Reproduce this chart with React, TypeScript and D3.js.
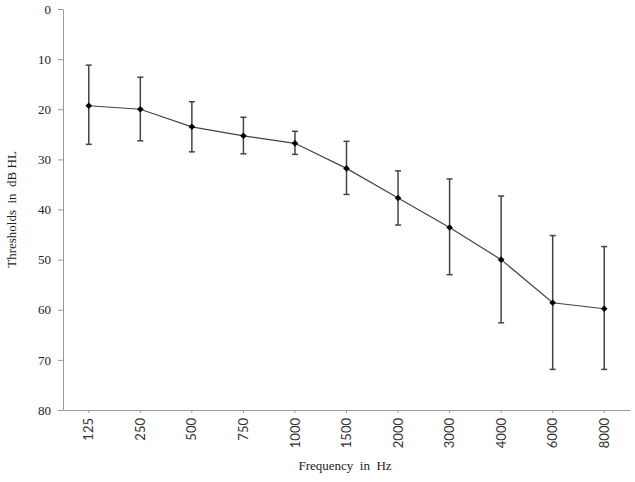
import React, { useEffect, useRef } from "react";
import * as d3 from "d3";

const frequencies = ["125", "250", "500", "750", "1000", "1500", "2000", "3000", "4000", "6000", "8000"];
const meanThresholds = [19.3, 20.0, 23.5, 25.3, 26.8, 31.8, 37.7, 43.6, 50.0, 58.6, 59.8];
const upperErr = [11.2, 13.6, 18.5, 21.6, 24.4, 26.4, 32.3, 33.9, 37.3, 45.2, 47.4];
const lowerErr = [27.0, 26.3, 28.5, 28.9, 29.0, 37.0, 43.1, 53.0, 62.6, 71.9, 71.9];
const yTicks = [0, 10, 20, 30, 40, 50, 60, 70, 80];

const serif = "'Liberation Serif', 'Times New Roman', serif";

function App() {
  const ref = useRef<SVGSVGElement>(null);

  useEffect(() => {
    document.body.style.margin = "0";
    const width = 635;
    const height = 482;
    const margin = { top: 9, right: 5, bottom: 72, left: 63 };

    const svg = d3.select(ref.current);
    svg.selectAll("*").remove();
    svg.attr("width", width).attr("height", height);

    const data = frequencies.map((f, i) => ({
      f,
      v: meanThresholds[i],
      lo: upperErr[i],
      hi: lowerErr[i],
    }));

    const x = d3.scaleBand().domain(frequencies).range([margin.left, width - margin.right]);
    const y = d3.scaleLinear().domain([0, 80]).range([margin.top, height - margin.bottom]);
    const cx = (f: string) => (x(f) as number) + x.bandwidth() / 2;

    // y axis
    const yAxis = svg.append("g").attr("transform", `translate(${margin.left},0)`)
      .call(d3.axisLeft(y).tickValues(yTicks).tickSize(5).tickSizeOuter(0));
    yAxis.attr("font-family", null);
    yAxis.select(".domain").attr("stroke", "#999");
    yAxis.selectAll(".tick line").attr("stroke", "#999");
    yAxis.selectAll("text")
      .attr("fill", "#222")
      .style("font-family", serif)
      .style("font-size", "13px")
      .attr("x", -12);

    // x axis
    const xAxis = svg.append("g").attr("transform", `translate(0,${height - margin.bottom})`)
      .call(d3.axisBottom(x).tickSize(3).tickSizeOuter(0));
    xAxis.select(".domain").attr("stroke", "#999");
    xAxis.selectAll(".tick line").attr("stroke", "#999");
    xAxis.selectAll("text")
      .attr("fill", "#333")
      .style("font-family", "Lato, sans-serif")
      .style("font-size", "13px")
      .attr("transform", "rotate(-90)")
      .attr("text-anchor", "end")
      .attr("x", -8)
      .attr("y", 0)
      .attr("dy", "0.35em");

    // line
    const line = d3.line<typeof data[number]>().x(d => cx(d.f)).y(d => y(d.v));
    svg.append("path")
      .datum(data)
      .attr("fill", "none")
      .attr("stroke", "#444")
      .attr("stroke-width", 1.2)
      .attr("d", line);

    // error bars
    const err = svg.append("g").attr("stroke", "#444").attr("stroke-width", 1.5);
    err.selectAll(".v").data(data).join("line")
      .attr("x1", d => cx(d.f)).attr("x2", d => cx(d.f))
      .attr("y1", d => y(d.lo)).attr("y2", d => y(d.hi));
    err.selectAll(".c1").data(data).join("line")
      .attr("x1", d => cx(d.f) - 3).attr("x2", d => cx(d.f) + 3)
      .attr("y1", d => y(d.lo)).attr("y2", d => y(d.lo));
    err.selectAll(".c2").data(data).join("line")
      .attr("x1", d => cx(d.f) - 3).attr("x2", d => cx(d.f) + 3)
      .attr("y1", d => y(d.hi)).attr("y2", d => y(d.hi));

    // markers: square turned 45 degrees
    svg.append("g").selectAll("path").data(data).join("path")
      .attr("d", d3.symbol(d3.symbolSquare, 22))
      .attr("transform", d => `translate(${cx(d.f)},${y(d.v)}) rotate(45)`)
      .attr("fill", "#000");

    // titles
    svg.append("text")
      .attr("transform", `translate(16,${(margin.top + height - margin.bottom) / 2}) rotate(-90)`)
      .attr("text-anchor", "middle")
      .style("font-family", serif)
      .style("font-size", "13px")
      .style("white-space", "pre")
      .attr("fill", "#222")
      .text("Thresholds  in  dB HL");

    svg.append("text")
      .attr("x", 345)
      .attr("y", 470)
      .attr("text-anchor", "middle")
      .style("font-family", serif)
      .style("font-size", "13px")
      .style("white-space", "pre")
      .attr("fill", "#222")
      .text("Frequency  in  Hz");
  }, []);

  return <svg ref={ref}></svg>;
}

export default App;
